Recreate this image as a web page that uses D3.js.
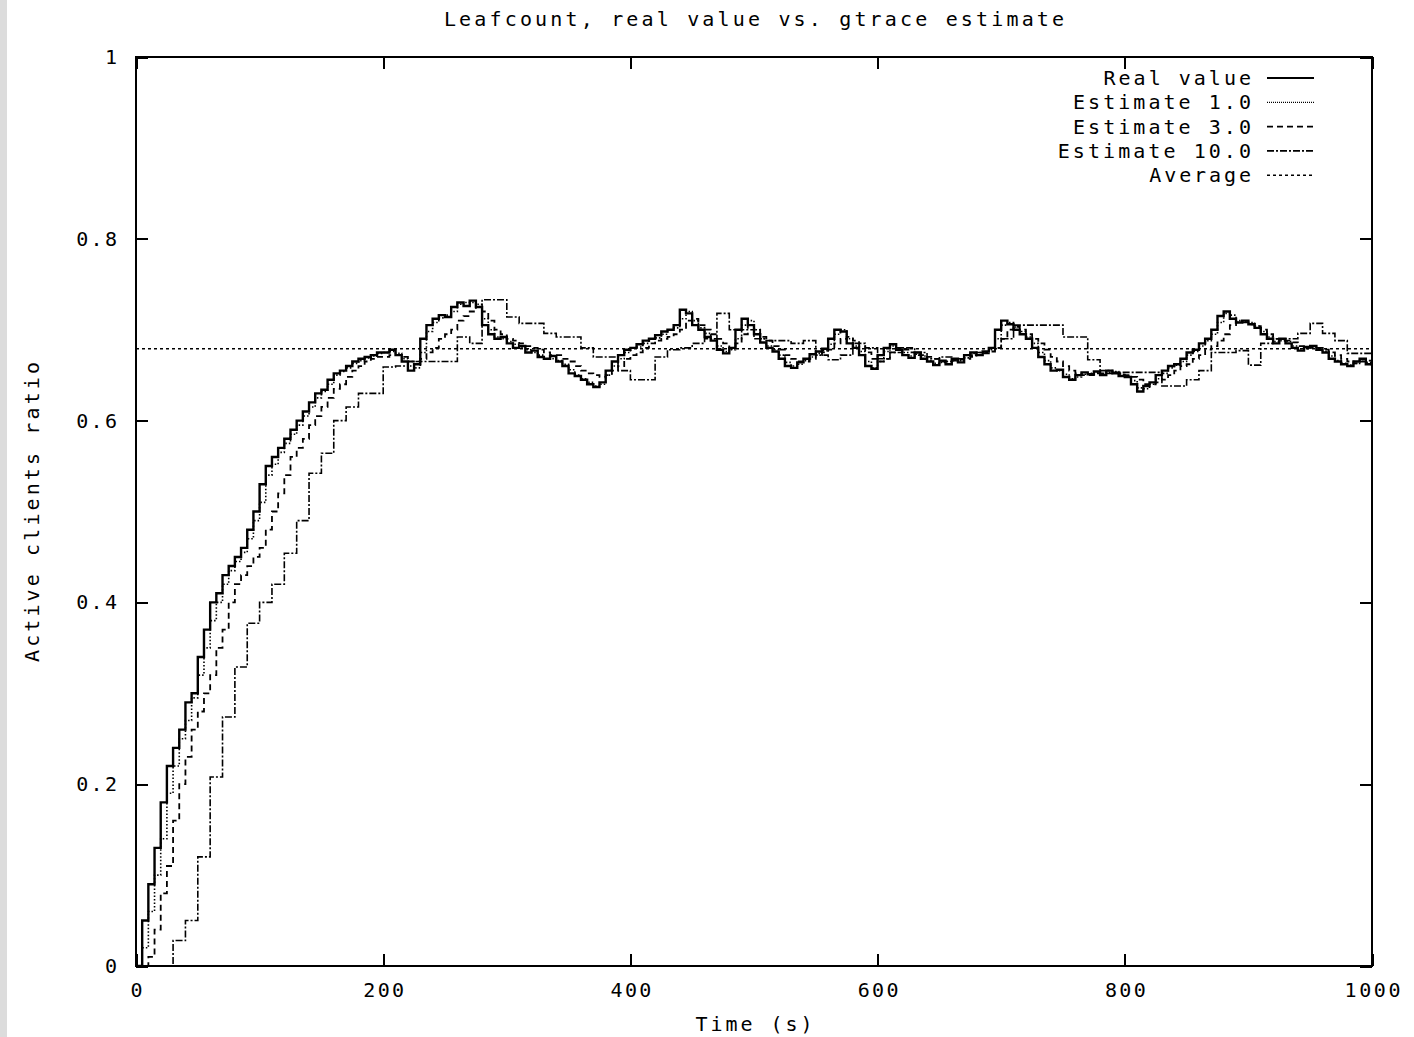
<!DOCTYPE html>
<html>
<head>
<meta charset="utf-8">
<script src="https://cdn.jsdelivr.net/npm/d3@7/dist/d3.min.js"></script>
<style>
body { margin: 0; background: #fff; }
svg { display: block; }
text { font-family: "DejaVu Sans Mono", monospace; font-size: 20px; fill: #000; }
</style>
</head>
<body>
<svg id="chart" width="1414" height="1037"></svg>
<script>

// 
// Leafcount, real value vs. gtrace estimate (gnuplot-style plot).
// 

var xTicks = [0, 200, 400, 600, 800, 1000];
var yTicks = [0, 0.2, 0.4, 0.6, 0.8, 1];
var legendNames = ['Real value', 'Estimate 1.0', 'Estimate 3.0', 'Estimate 10.0', 'Average'];

var average = 0.679;

// t = 0, 5, 10 ... 1000
var realValue = [
    0, 0.05, 0.09, 0.13, 0.18, 0.22, 0.24, 0.26, 0.29, 0.30,
    0.34, 0.37, 0.40, 0.41, 0.43, 0.44, 0.45, 0.46, 0.48, 0.50,
    0.53, 0.55, 0.56, 0.57, 0.58, 0.59, 0.60, 0.61, 0.62, 0.63,
    0.634, 0.645, 0.652, 0.655, 0.66, 0.665, 0.668, 0.67, 0.672, 0.675,
    0.675, 0.678, 0.672, 0.665, 0.655, 0.662, 0.69, 0.705, 0.712, 0.716,
    0.714, 0.725, 0.73, 0.726, 0.732, 0.725, 0.705, 0.695, 0.69, 0.692,
    0.685, 0.68, 0.682, 0.675, 0.677, 0.67, 0.668, 0.671, 0.665, 0.66,
    0.652, 0.649, 0.645, 0.64, 0.637, 0.642, 0.655, 0.665, 0.672, 0.678,
    0.68, 0.684, 0.688, 0.69, 0.694, 0.698, 0.70, 0.705, 0.722, 0.718,
    0.705, 0.70, 0.692, 0.688, 0.678, 0.674, 0.68, 0.70, 0.712, 0.705,
    0.695, 0.686, 0.68, 0.676, 0.668, 0.66, 0.658, 0.664, 0.668, 0.673,
    0.676, 0.679, 0.69, 0.70, 0.698, 0.685, 0.68, 0.672, 0.66, 0.657,
    0.672, 0.68, 0.684, 0.678, 0.672, 0.669, 0.675, 0.668, 0.665, 0.661,
    0.666, 0.662, 0.668, 0.664, 0.672, 0.675, 0.672, 0.676, 0.68, 0.70,
    0.71, 0.706, 0.70, 0.695, 0.69, 0.68, 0.67, 0.662, 0.655, 0.656,
    0.648, 0.645, 0.65, 0.653, 0.651, 0.654, 0.65, 0.655, 0.652, 0.649,
    0.648, 0.64, 0.632, 0.638, 0.642, 0.65, 0.655, 0.66, 0.662, 0.668,
    0.675, 0.678, 0.685, 0.69, 0.70, 0.715, 0.72, 0.712, 0.708, 0.71,
    0.706, 0.702, 0.695, 0.69, 0.685, 0.69, 0.685, 0.68, 0.677, 0.681,
    0.682, 0.678, 0.675, 0.668, 0.665, 0.662, 0.66, 0.665, 0.668, 0.662,
    0.66
];

var estimate1 = [
    0, 0.02, 0.06, 0.10, 0.14, 0.19, 0.22, 0.25, 0.27, 0.295,
    0.32, 0.35, 0.38, 0.40, 0.42, 0.435, 0.445, 0.455, 0.47, 0.49,
    0.51, 0.54, 0.552, 0.565, 0.575, 0.585, 0.595, 0.605, 0.615, 0.625,
    0.632, 0.64, 0.65, 0.654, 0.658, 0.663, 0.666, 0.669, 0.671, 0.674,
    0.675, 0.676, 0.674, 0.668, 0.66, 0.658, 0.675, 0.698, 0.708, 0.713,
    0.716, 0.72, 0.728, 0.73, 0.73, 0.728, 0.712, 0.70, 0.692, 0.69,
    0.687, 0.684, 0.68, 0.678, 0.675, 0.672, 0.668, 0.668, 0.666, 0.662,
    0.656, 0.65, 0.646, 0.642, 0.638, 0.64, 0.65, 0.66, 0.668, 0.675,
    0.68, 0.681, 0.685, 0.69, 0.691, 0.695, 0.70, 0.702, 0.712, 0.72,
    0.71, 0.702, 0.696, 0.69, 0.682, 0.676, 0.678, 0.69, 0.705, 0.71,
    0.70, 0.69, 0.682, 0.678, 0.672, 0.664, 0.66, 0.662, 0.666, 0.67,
    0.674, 0.677, 0.684, 0.695, 0.70, 0.69, 0.682, 0.676, 0.665, 0.658,
    0.665, 0.676, 0.682, 0.68, 0.675, 0.671, 0.673, 0.671, 0.666, 0.663,
    0.664, 0.665, 0.666, 0.666, 0.669, 0.674, 0.675, 0.675, 0.678, 0.69,
    0.705, 0.708, 0.703, 0.698, 0.692, 0.685, 0.675, 0.666, 0.658, 0.655,
    0.651, 0.646, 0.648, 0.651, 0.652, 0.653, 0.652, 0.653, 0.654, 0.651,
    0.649, 0.644, 0.636, 0.635, 0.64, 0.646, 0.652, 0.658, 0.661, 0.665,
    0.672, 0.676, 0.682, 0.688, 0.695, 0.708, 0.718, 0.716, 0.71, 0.709,
    0.708, 0.704, 0.698, 0.692, 0.687, 0.688, 0.687, 0.682, 0.679, 0.679,
    0.681, 0.68, 0.676, 0.671, 0.666, 0.663, 0.661, 0.663, 0.667, 0.664,
    0.661
];

var estimate3 = [
    0, 0, 0.01, 0.04, 0.08, 0.11, 0.16, 0.20, 0.23, 0.26,
    0.28, 0.30, 0.32, 0.35, 0.37, 0.40, 0.42, 0.43, 0.44, 0.45,
    0.46, 0.48, 0.50, 0.52, 0.54, 0.56, 0.57, 0.58, 0.595, 0.605,
    0.615, 0.625, 0.635, 0.64, 0.648, 0.655, 0.66, 0.665, 0.668, 0.67,
    0.67, 0.672, 0.672, 0.67, 0.665, 0.665, 0.668, 0.675, 0.68, 0.69,
    0.695, 0.70, 0.71, 0.715, 0.72, 0.725, 0.72, 0.71, 0.70, 0.695,
    0.69, 0.688, 0.685, 0.682, 0.68, 0.678, 0.675, 0.672, 0.672, 0.668,
    0.665, 0.66, 0.655, 0.652, 0.65, 0.648, 0.65, 0.655, 0.66, 0.668,
    0.672, 0.675, 0.68, 0.685, 0.688, 0.69, 0.692, 0.695, 0.70, 0.71,
    0.712, 0.705, 0.70, 0.695, 0.69, 0.685, 0.68, 0.685, 0.695, 0.705,
    0.70, 0.692, 0.688, 0.682, 0.678, 0.672, 0.668, 0.665, 0.665, 0.668,
    0.672, 0.675, 0.678, 0.685, 0.69, 0.692, 0.688, 0.682, 0.675, 0.668,
    0.665, 0.668, 0.675, 0.68, 0.678, 0.675, 0.672, 0.672, 0.67, 0.668,
    0.665, 0.665, 0.666, 0.667, 0.668, 0.67, 0.672, 0.674, 0.676, 0.68,
    0.69, 0.70, 0.703, 0.70, 0.695, 0.69, 0.685, 0.678, 0.67, 0.665,
    0.66, 0.655, 0.652, 0.65, 0.65, 0.652, 0.652, 0.652, 0.653, 0.652,
    0.65, 0.648, 0.645, 0.64, 0.64, 0.642, 0.645, 0.65, 0.655, 0.66,
    0.662, 0.668, 0.672, 0.678, 0.682, 0.688, 0.695, 0.705, 0.708, 0.708,
    0.706, 0.704, 0.70, 0.695, 0.69, 0.688, 0.688, 0.686, 0.682, 0.68,
    0.68, 0.68, 0.678, 0.675, 0.672, 0.668, 0.665, 0.663, 0.665, 0.666,
    0.665
];

// t = 0, 10, 20 ... 1000
var estimate10 = [
    0, 0, 0, 0.028, 0.05, 0.12, 0.208, 0.274, 0.329, 0.377,
    0.40, 0.42, 0.454, 0.49, 0.542, 0.564, 0.60, 0.615, 0.63, 0.63,
    0.659, 0.66, 0.665, 0.665, 0.665, 0.665, 0.692, 0.685, 0.733, 0.733,
    0.714, 0.707, 0.707, 0.696, 0.692, 0.692, 0.68, 0.67, 0.67, 0.655,
    0.645, 0.645, 0.67, 0.678, 0.68, 0.685, 0.69, 0.718, 0.70, 0.70,
    0.69, 0.688, 0.688, 0.685, 0.688, 0.672, 0.667, 0.672, 0.685, 0.68,
    0.668, 0.675, 0.68, 0.675, 0.668, 0.67, 0.668, 0.672, 0.675, 0.68,
    0.69, 0.705, 0.705, 0.705, 0.705, 0.692, 0.692, 0.667, 0.655, 0.653,
    0.653, 0.653, 0.653, 0.638, 0.638, 0.645, 0.655, 0.675, 0.675, 0.677,
    0.661, 0.685, 0.69, 0.69, 0.696, 0.707, 0.696, 0.688, 0.674, 0.674,
    0.696
];

var margin = {left: 136, top: 57, right: 42, bottom: 71},
    width = 1414 - margin.left - margin.right,
    height = 1037 - margin.top - margin.bottom;

var svg = d3.select('#chart');

// grey strip down the left edge of the screenshot
svg.append('rect')
    .attr('x', 0).attr('y', 0)
    .attr('width', 7).attr('height', 1037)
    .attr('fill', '#dcdcdc');

var x = d3.scaleLinear().domain([0, 1000]).range([0, width]),
    y = d3.scaleLinear().domain([0, 1]).range([height, 0]);

var g = svg.append('g').attr('transform', 'translate(' + margin.left + ',' + margin.top + ')');

// gnuplot font is wide: stretch every label to a fixed pitch
function pitch(sel)
{
    sel.each(function() {
        var n = this.textContent.length;
        d3.select(this)
            .attr('textLength', n * 15.25 - 5)
            .attr('lengthAdjust', 'spacing');
    });
}

function series(values, step)
{
    return values.map(function(v, i) { return {t: i * step, v: v} });
}

g.append('clipPath').attr('id', 'clip')
  .append('rect').attr('width', width).attr('height', height);

var line = d3.line()
    .x(function(d) { return x(d.t) })
    .y(function(d) { return y(d.v) })
    .curve(d3.curveStepAfter);

var plots = [
    {name: 'Estimate 10.0', data: series(estimate10, 10), width: 1.6, dash: '7,2,2,2'},
    {name: 'Estimate 3.0',  data: series(estimate3, 5),   width: 1.8, dash: '6,4'},
    {name: 'Estimate 1.0',  data: series(estimate1, 5),   width: 1.6, dash: '1.5,2'},
    {name: 'Real value',    data: series(realValue, 5),   width: 2.4, dash: null}
];

var lines = g.append('g').attr('clip-path', 'url(#clip)');

lines.selectAll('path.series')
    .data(plots)
    .enter()
    .append('path')
    .attr('class', 'series')
    .attr('fill', 'none')
    .attr('stroke', '#000')
    .attr('stroke-width', function(d) { return d.width })
    .attr('stroke-dasharray', function(d) { return d.dash })
    .attr('d', function(d) { return line(d.data) });

lines.append('line')
    .attr('x1', x(0)).attr('x2', x(1000))
    .attr('y1', y(average)).attr('y2', y(average))
    .attr('stroke', '#000')
    .attr('stroke-width', 1.6)
    .attr('stroke-dasharray', '3,3');

// axes with inward ticks on all four sides
var fmtY = function(d) { return d == 0 || d == 1 ? String(d) : d.toFixed(1) };

var ax = [
    g.append('g').attr('transform', 'translate(0,' + height + ')')
        .call(d3.axisBottom(x).tickValues(xTicks).tickFormat(d3.format('d')).tickSize(-12).tickPadding(17)),
    g.append('g')
        .call(d3.axisLeft(y).tickValues(yTicks).tickFormat(fmtY).tickSize(-12).tickPadding(19)),
    g.append('g')
        .call(d3.axisTop(x).tickValues(xTicks).tickFormat('').tickSize(-12)),
    g.append('g').attr('transform', 'translate(' + width + ',0)')
        .call(d3.axisRight(y).tickValues(yTicks).tickFormat('').tickSize(-12))
];

ax.forEach(function(a) {
    a.select('.domain').remove();
    a.selectAll('line').attr('stroke', '#000').attr('stroke-width', 2).attr('shape-rendering', 'crispEdges');
    a.selectAll('text').attr('font-family', null).attr('font-size', null).call(pitch);
});

g.append('rect')
    .attr('width', width).attr('height', height)
    .attr('fill', 'none')
    .attr('stroke', '#000')
    .attr('stroke-width', 2)
    .attr('shape-rendering', 'crispEdges');

// legend, top right inside the frame
var legendStyle = [
    {width: 2, dash: null},
    {width: 1.2, dash: '1,1'},
    {width: 1.6, dash: '6,4'},
    {width: 1.6, dash: '7,2,2,2'},
    {width: 1.6, dash: '3,3'}
];

var legend = g.selectAll('g.key')
    .data(legendNames)
    .enter()
    .append('g')
    .attr('class', 'key')
    .attr('transform', function(d, i) { return 'translate(0,' + (21 + i * 24.3) + ')' });

legend.append('text')
    .attr('x', 1115)
    .attr('dy', '0.35em')
    .attr('text-anchor', 'end')
    .text(function(d) { return d })
    .call(pitch);

legend.append('line')
    .attr('x1', 1131).attr('x2', 1178)
    .attr('stroke', '#000')
    .attr('stroke-width', function(d, i) { return legendStyle[i].width })
    .attr('stroke-dasharray', function(d, i) { return legendStyle[i].dash });

// titles
svg.append('text')
    .attr('x', 754).attr('y', 26)
    .attr('text-anchor', 'middle')
    .text('Leafcount, real value vs. gtrace estimate')
    .call(pitch);

svg.append('text')
    .attr('x', 754).attr('y', 1031)
    .attr('text-anchor', 'middle')
    .text('Time (s)')
    .call(pitch);

svg.append('text')
    .attr('transform', 'translate(39,512) rotate(-90)')
    .attr('text-anchor', 'middle')
    .text('Active clients ratio')
    .call(pitch);

</script>
</body>
</html>
